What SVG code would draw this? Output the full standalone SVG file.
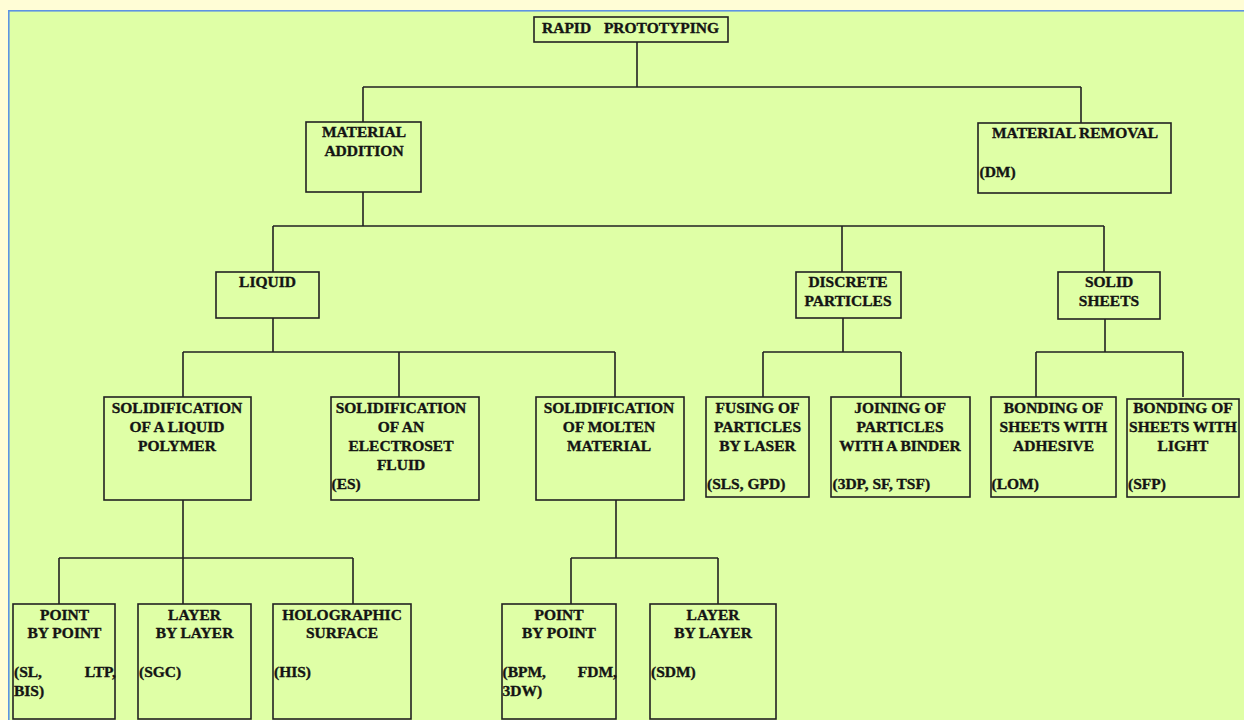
<svg xmlns="http://www.w3.org/2000/svg" width="1244" height="720" viewBox="0 0 1244 720">
<style>
.bg{fill:#FFFDD6}
.panel{fill:#DFFFA6;stroke:#5E93E3;stroke-width:1.6}
.box{fill:none;stroke:#222;stroke-width:1.6}
.ln{fill:none;stroke:#222;stroke-width:1.6}
text{font-family:"Liberation Serif","Times New Roman",serif;font-weight:bold;font-size:15.5px;fill:#141414;stroke:#141414;stroke-width:0.35}
.c{text-anchor:middle}
.e{text-anchor:end}
</style>
<rect class="bg" x="0" y="0" width="1244" height="720"/>
<rect class="panel" x="8.8" y="10.8" width="1250" height="730"/>
<g id="connectors">
<path class="ln" d="M637,42V87M363,87H1081M363,87V122M1081,87V123M363,192V226M273,226H1104M273,226V272M842,226V272M1104,226V272"/>
<path class="ln" d="M273,318V352M183,352H615M183,352V397M399,352V397M615,352V397"/>
<path class="ln" d="M843,318V352M763,352H901M763,352V397M901,352V397"/>
<path class="ln" d="M1105,319V352M1036,352H1183M1036,352V397M1183,352V397"/>
<path class="ln" d="M183,500V604M59,558H353M59,558V604M353,558V604"/>
<path class="ln" d="M616,500V558M571,558H718M571,558V604M718,558V604"/>
</g>
<g id="rapid-prototyping">
<rect class="box" x="534" y="17" width="194" height="25"/>
<text x="542" y="32.5">RAPID</text>
<text x="719" y="32.5" class="e">PROTOTYPING</text>
</g>
<g id="material-addition">
<rect class="box" x="306" y="122" width="115" height="70"/>
<text x="364" y="137" class="c">MATERIAL</text>
<text x="364" y="156" class="c">ADDITION</text>
</g>
<g id="material-removal">
<rect class="box" x="978" y="123" width="193" height="70"/>
<text x="1075" y="137.5" class="c">MATERIAL REMOVAL</text>
<text x="979.5" y="176.5">(DM)</text>
</g>
<g id="liquid">
<rect class="box" x="216" y="272" width="103" height="46"/>
<text x="267.5" y="287" class="c">LIQUID</text>
</g>
<g id="discrete-particles">
<rect class="box" x="796" y="272" width="105" height="46"/>
<text x="848" y="287" class="c">DISCRETE</text>
<text x="848" y="306" class="c">PARTICLES</text>
</g>
<g id="solid-sheets">
<rect class="box" x="1058" y="272" width="102" height="47"/>
<text x="1109" y="287" class="c">SOLID</text>
<text x="1109" y="306" class="c">SHEETS</text>
</g>
<g id="solid-liquid-polymer">
<rect class="box" x="104" y="397" width="147" height="103"/>
<text x="177" y="413" class="c">SOLIDIFICATION</text>
<text x="177" y="432" class="c">OF A LIQUID</text>
<text x="177" y="451" class="c">POLYMER</text>
</g>
<g id="solid-electroset">
<rect class="box" x="331" y="397" width="148" height="103"/>
<text x="401" y="413" class="c">SOLIDIFICATION</text>
<text x="401" y="432" class="c">OF AN</text>
<text x="401" y="451" class="c">ELECTROSET</text>
<text x="401" y="470" class="c">FLUID</text>
<text x="331.5" y="489">(ES)</text>
</g>
<g id="solid-molten">
<rect class="box" x="536" y="397" width="148" height="103"/>
<text x="609" y="413" class="c">SOLIDIFICATION</text>
<text x="609" y="432" class="c">OF MOLTEN</text>
<text x="609" y="451" class="c">MATERIAL</text>
</g>
<g id="fusing-laser">
<rect class="box" x="706" y="397" width="103" height="100"/>
<text x="757.5" y="413" class="c">FUSING OF</text>
<text x="757.5" y="432" class="c">PARTICLES</text>
<text x="757.5" y="451" class="c">BY LASER</text>
<text x="707" y="489">(SLS, GPD)</text>
</g>
<g id="joining-binder">
<rect class="box" x="831" y="397" width="139" height="100"/>
<text x="900" y="413" class="c">JOINING OF</text>
<text x="900" y="432" class="c">PARTICLES</text>
<text x="900" y="451" class="c">WITH A BINDER</text>
<text x="832.5" y="489">(3DP, SF, TSF)</text>
</g>
<g id="bonding-adhesive">
<rect class="box" x="991" y="397" width="125" height="100"/>
<text x="1053.5" y="413" class="c">BONDING OF</text>
<text x="1053.5" y="432" class="c">SHEETS WITH</text>
<text x="1053.5" y="451" class="c">ADHESIVE</text>
<text x="991.5" y="489">(LOM)</text>
</g>
<g id="bonding-light">
<rect class="box" x="1127" y="399" width="112" height="98"/>
<text x="1183" y="413" class="c">BONDING OF</text>
<text x="1183" y="432" class="c">SHEETS WITH</text>
<text x="1183" y="451" class="c">LIGHT</text>
<text x="1128" y="489">(SFP)</text>
</g>
<g id="point-by-point-1">
<rect class="box" x="13" y="604" width="102" height="115"/>
<text x="64.5" y="619.5" class="c">POINT</text>
<text x="64.5" y="638" class="c">BY POINT</text>
<text x="14" y="677">(SL,</text>
<text x="116" y="677" class="e">LTP,</text>
<text x="14" y="696">BIS)</text>
</g>
<g id="layer-by-layer-1">
<rect class="box" x="138" y="604" width="113" height="115"/>
<text x="194.5" y="619.5" class="c">LAYER</text>
<text x="194.5" y="638" class="c">BY LAYER</text>
<text x="139" y="677">(SGC)</text>
</g>
<g id="holographic-surface">
<rect class="box" x="273" y="604" width="138" height="115"/>
<text x="342" y="619.5" class="c">HOLOGRAPHIC</text>
<text x="342" y="638" class="c">SURFACE</text>
<text x="274" y="677">(HIS)</text>
</g>
<g id="point-by-point-2">
<rect class="box" x="502" y="604" width="114" height="115"/>
<text x="559" y="619.5" class="c">POINT</text>
<text x="559" y="638" class="c">BY POINT</text>
<text x="502.5" y="677">(BPM,</text>
<text x="617" y="677" class="e">FDM,</text>
<text x="502.5" y="696">3DW)</text>
</g>
<g id="layer-by-layer-2">
<rect class="box" x="650" y="604" width="126" height="115"/>
<text x="713" y="619.5" class="c">LAYER</text>
<text x="713" y="638" class="c">BY LAYER</text>
<text x="651" y="677">(SDM)</text>
</g>
</svg>
